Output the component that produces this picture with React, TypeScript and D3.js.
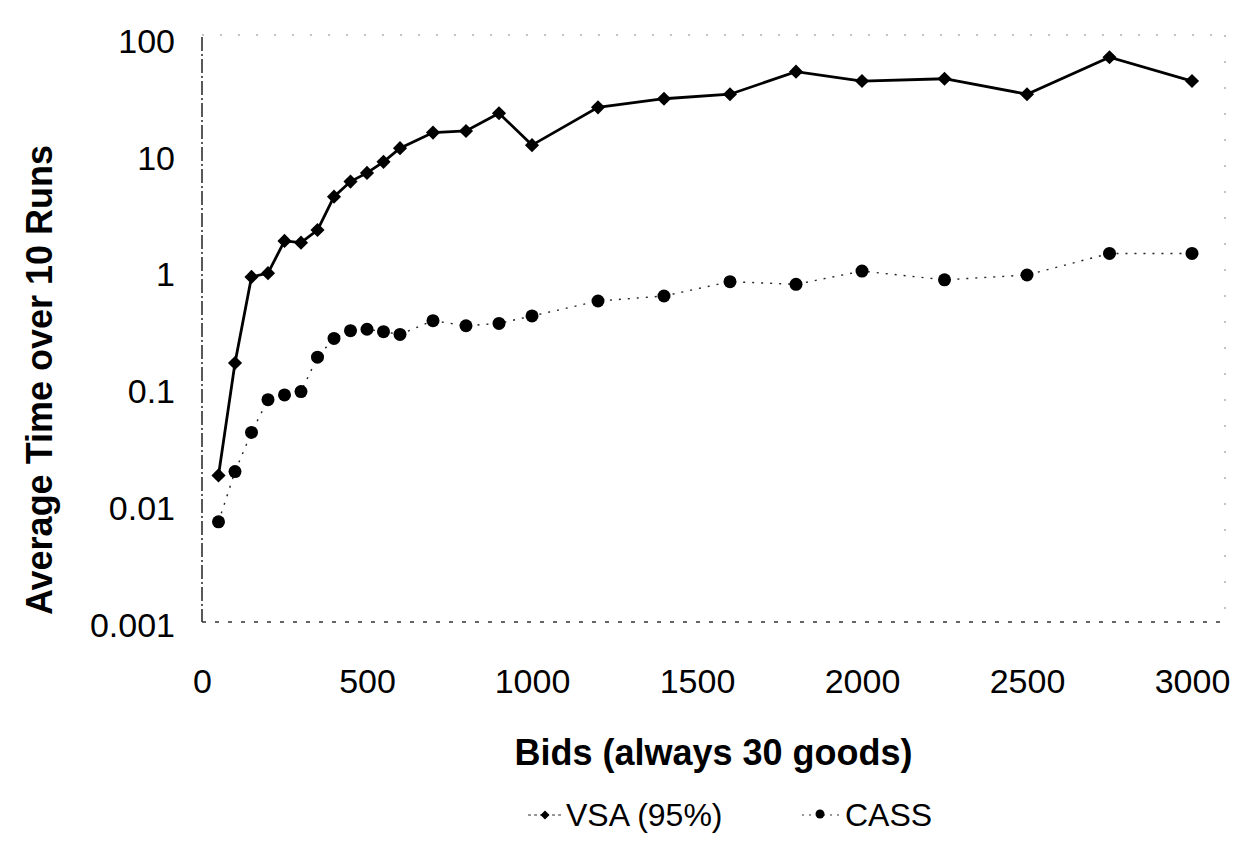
import { useEffect, useRef } from "react";
import * as d3 from "d3";

const bids = [50, 100, 150, 200, 250, 300, 350, 400, 450, 500, 550, 600, 700, 800, 900, 1000, 1200, 1400, 1600, 1800, 2000, 2250, 2500, 2750, 3000];
const vsaTimes = [0.018, 0.165, 0.9, 0.97, 1.83, 1.77, 2.27, 4.38, 5.9, 7.0, 8.7, 11.4, 15.5, 16, 22.7, 12.1, 25.5, 30.2, 33, 51.5, 42.8, 44.8, 33, 68.4, 42.8];
const cassTimes = [0.0072, 0.0194, 0.042, 0.08, 0.088, 0.094, 0.185, 0.268, 0.312, 0.321, 0.306, 0.29, 0.38, 0.344, 0.36, 0.417, 0.56, 0.618, 0.82, 0.778, 1.01, 0.85, 0.935, 1.43, 1.43];
const xTicks = [0, 500, 1000, 1500, 2000, 2500, 3000];
const yTicks = [0.001, 0.01, 0.1, 1, 10, 100];
const yTickLabels = ["0.001", "0.01", "0.1", "1", "10", "100"];

export default function App() {
    const svgRef = useRef<SVGSVGElement>(null);

    useEffect(() => {
        const svg = d3.select(svgRef.current);
        svg.selectAll("*").remove();

        const width = 1254;
        const height = 849;
        const left = 202, right = 1225, top = 37, bottom = 622;
        const font = "'Liberation Sans', Arial, sans-serif";

        svg.attr("width", width).attr("height", height);
        svg.append("rect").attr("width", width).attr("height", height).attr("fill", "#fff");

        const x = d3.scaleLinear().domain([0, 3100]).range([left, right]);
        const y = d3.scaleLog().domain([0.001, 100]).range([bottom, 38]);

        // frame (scanned look: solid-ish left, dotted elsewhere)
        svg.append("line").attr("x1", left).attr("x2", left).attr("y1", top).attr("y2", bottom)
            .attr("stroke", "#222").attr("stroke-width", 1.5).attr("stroke-dasharray", "14 3 2 3");
        svg.append("line").attr("x1", left).attr("x2", right).attr("y1", bottom).attr("y2", bottom)
            .attr("stroke", "#333").attr("stroke-width", 1.3).attr("stroke-dasharray", "4 9");
        svg.append("line").attr("x1", left).attr("x2", right).attr("y1", 35).attr("y2", 35)
            .attr("stroke", "#888").attr("stroke-width", 1).attr("stroke-dasharray", "2 16");
        svg.append("line").attr("x1", right).attr("x2", right).attr("y1", 35).attr("y2", bottom)
            .attr("stroke", "#888").attr("stroke-width", 1).attr("stroke-dasharray", "2 24");

        // axes
        const xAxis = svg.append("g")
            .attr("transform", `translate(0,${bottom})`)
            .call(d3.axisBottom(x).tickValues(xTicks).tickSize(0).tickPadding(47).tickFormat(d3.format("d")));
        xAxis.select(".domain").remove();
        xAxis.selectAll("text").attr("font-family", font).attr("font-size", 34).attr("fill", "#000");

        const yAxis = svg.append("g")
            .attr("transform", `translate(${left},0)`)
            .call(d3.axisLeft(y).tickValues(yTicks).tickSize(0).tickPadding(27)
                .tickFormat((d, i) => yTickLabels[i]));
        yAxis.select(".domain").remove();
        yAxis.selectAll("text").attr("font-family", font).attr("font-size", 34).attr("fill", "#000").attr("dy", "0.42em");

        // titles
        svg.append("text")
            .attr("x", (left + right) / 2).attr("y", 765)
            .attr("text-anchor", "middle")
            .attr("font-family", font).attr("font-size", 36).attr("font-weight", "bold")
            .text("Bids (always 30 goods)");
        svg.append("text")
            .attr("transform", `translate(52,380) rotate(-90)`)
            .attr("text-anchor", "middle")
            .attr("font-family", font).attr("font-size", 36).attr("font-weight", "bold")
            .text("Average Time over 10 Runs");

        const vsa = bids.map((b, i) => [b, vsaTimes[i]] as [number, number]);
        const cass = bids.map((b, i) => [b, cassTimes[i]] as [number, number]);
        const line = d3.line<[number, number]>().x((d) => x(d[0])).y((d) => y(d[1]));

        // CASS series
        svg.append("path").datum(cass).attr("d", line)
            .attr("fill", "none").attr("stroke", "#222").attr("stroke-width", 1.4)
            .attr("stroke-dasharray", "2 7");
        svg.append("g").selectAll("circle").data(cass).enter().append("circle")
            .attr("cx", (d) => x(d[0])).attr("cy", (d) => y(d[1])).attr("r", 6.5).attr("fill", "#000");

        // VSA series
        svg.append("path").datum(vsa).attr("d", line)
            .attr("fill", "none").attr("stroke", "#000").attr("stroke-width", 2.8);
        const square = d3.symbol().type(d3.symbolSquare).size(100);
        svg.append("g").selectAll("path").data(vsa).enter().append("path")
            .attr("d", square)
            .attr("transform", (d) => `translate(${x(d[0])},${y(d[1])}) rotate(45)`)
            .attr("fill", "#000");

        // legend
        const legY = 826;
        const lg = svg.append("g");
        lg.append("line").attr("x1", 528).attr("x2", 562).attr("y1", legY - 11).attr("y2", legY - 11)
            .attr("stroke", "#333").attr("stroke-width", 1.2).attr("stroke-dasharray", "3 3");
        lg.append("path").attr("d", d3.symbol().type(d3.symbolSquare).size(40))
            .attr("transform", `translate(545,${legY - 11}) rotate(45)`).attr("fill", "#000");
        lg.append("text").attr("x", 566).attr("y", legY)
            .attr("font-family", font).attr("font-size", 32).text("VSA (95%)");
        lg.append("line").attr("x1", 802).attr("x2", 840).attr("y1", legY - 11).attr("y2", legY - 11)
            .attr("stroke", "#333").attr("stroke-width", 1.2).attr("stroke-dasharray", "2 5");
        lg.append("circle").attr("cx", 820).attr("cy", legY - 12).attr("r", 4.5).attr("fill", "#000");
        lg.append("text").attr("x", 845).attr("y", legY)
            .attr("font-family", font).attr("font-size", 32).text("CASS");
    }, []);

    return (
        <div style={{ position: "absolute", left: 0, top: 0 }}>
            <svg ref={svgRef} style={{ display: "block" }} />
        </div>
    );
}
